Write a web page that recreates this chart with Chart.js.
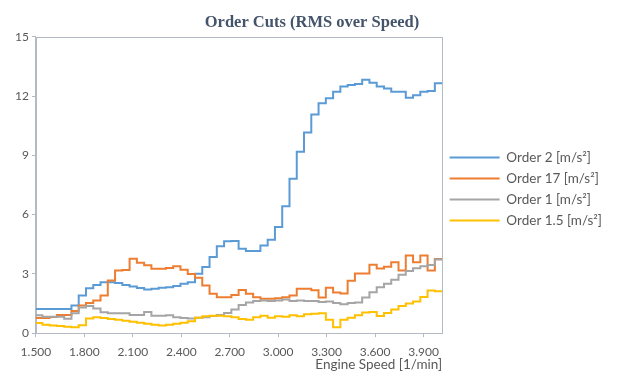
<!DOCTYPE html>
<html lang="en">
<head>
  <meta charset="UTF-8">
  <title>Order Cuts (RMS over Speed)</title>
  <style>
    html, body { margin: 0; padding: 0; background: #fff; }
    .wrap { position: relative; width: 618px; height: 378px; }
  </style>
  <script src="https://cdn.jsdelivr.net/npm/chart.js@4/dist/chart.umd.min.js"></script>
</head>
<body>
  <div class="wrap"><canvas id="myChart"></canvas></div>
  <script>
    // bin edges in 1/min (each value holds from its edge to the next one)
    const speeds = [1495, 1540, 1585, 1630, 1675, 1720, 1765, 1810, 1855, 1900,
      1945, 1990, 2035, 2080, 2125, 2170, 2215, 2260, 2305, 2350,
      2395, 2440, 2485, 2530, 2575, 2620, 2665, 2710, 2755, 2800,
      2845, 2890, 2935, 2980, 3025, 3070, 3115, 3160, 3205, 3250,
      3295, 3340, 3385, 3430, 3475, 3520, 3565, 3610, 3655, 3700,
      3745, 3790, 3835, 3880, 3925, 3970, 4015];

    const order2 = [1.22, 1.22, 1.22, 1.22, 1.22, 1.40, 1.90, 2.27, 2.44, 2.58,
      2.58, 2.53, 2.44, 2.36, 2.28, 2.21, 2.24, 2.29, 2.32, 2.38,
      2.50, 2.58, 3.00, 3.35, 3.85, 4.40, 4.65, 4.66, 4.27, 4.16,
      4.16, 4.44, 4.73, 5.37, 6.42, 7.81, 9.18, 10.16, 11.07, 11.63,
      11.89, 12.22, 12.48, 12.56, 12.61, 12.82, 12.68, 12.48, 12.38, 12.22,
      12.22, 11.92, 12.04, 12.22, 12.26, 12.65];

    const order17 = [0.77, 0.77, 0.82, 0.92, 0.92, 1.12, 1.40, 1.52, 1.65, 1.90,
      2.66, 3.17, 3.20, 3.77, 3.56, 3.43, 3.26, 3.26, 3.29, 3.39,
      3.21, 2.99, 2.80, 2.41, 1.99, 1.82, 1.82, 1.93, 2.18, 1.99,
      1.82, 1.74, 1.74, 1.77, 1.82, 1.90, 2.25, 2.25, 2.17, 1.80,
      2.30, 2.05, 2.00, 2.65, 3.02, 3.02, 3.46, 3.27, 3.36, 3.59,
      3.17, 3.93, 3.59, 3.93, 3.17, 3.75];

    const order1 = [0.90, 0.83, 0.83, 0.83, 0.73, 1.00, 1.30, 1.37, 1.25, 1.05,
      1.00, 1.00, 1.00, 0.92, 0.92, 1.07, 0.88, 0.88, 0.90, 0.80,
      0.76, 0.74, 0.78, 0.80, 0.86, 0.92, 1.02, 1.20, 1.42, 1.55,
      1.63, 1.65, 1.63, 1.65, 1.70, 1.62, 1.65, 1.62, 1.62, 1.57,
      1.60, 1.53, 1.46, 1.53, 1.55, 1.80, 2.07, 2.32, 2.50, 2.70,
      2.96, 3.15, 3.28, 3.38, 3.45, 3.73];

    const order15 = [0.51, 0.42, 0.38, 0.36, 0.32, 0.30, 0.40, 0.74, 0.80, 0.76,
      0.72, 0.67, 0.63, 0.58, 0.52, 0.47, 0.42, 0.38, 0.42, 0.47,
      0.52, 0.60, 0.78, 0.85, 0.88, 0.88, 0.85, 0.80, 0.72, 0.67,
      0.80, 0.88, 0.78, 0.85, 0.83, 0.90, 0.85, 0.95, 0.98, 1.00,
      0.68, 0.30, 0.68, 0.78, 0.90, 1.04, 1.07, 0.86, 1.02, 1.20,
      1.37, 1.50, 1.60, 1.83, 2.16, 2.12];

    const seriesNames = ['Order 2 [m/s²]', 'Order 17 [m/s²]', 'Order 1 [m/s²]', 'Order 1.5 [m/s²]'];
    const seriesColors = ['#5B9BD5', '#ED7D31', '#A5A5A5', '#FFC000'];
    const seriesValues = [order2, order17, order1, order15];

    const xMin = 1500, xMax = 4015, xStep = 300;
    const yMax = 15, yStep = 3;

    const axisColor = '#B4BAC4';
    const textColor = '#595959';

    // step line: each edge gets the value of its bin, the closing edge repeats the last one
    function toPoints(vals) {
      return speeds.map((x, i) => ({ x: x, y: vals[Math.min(i, vals.length - 1)] }));
    }

    // box round the plot area, like the original
    const plotBorder = {
      id: 'plotBorder',
      beforeDatasetsDraw(chart) {
        const a = chart.chartArea;
        const ctx = chart.ctx;
        ctx.save();
        ctx.strokeStyle = axisColor;
        ctx.lineWidth = 1;
        ctx.strokeRect(Math.round(a.left) + 0.5, Math.round(a.top) + 0.5,
          Math.round(a.right) - Math.round(a.left), Math.round(a.bottom) - Math.round(a.top));
        ctx.restore();
      }
    };

    Chart.defaults.font.family = 'Lato, sans-serif';
    Chart.defaults.color = textColor;

    const ctx = document.getElementById('myChart').getContext('2d');
    const myChart = new Chart(ctx, {
      type: 'line',
      data: {
        datasets: seriesValues.map((vals, i) => ({
          label: seriesNames[i],
          data: toPoints(vals),
          borderColor: seriesColors[i],
          backgroundColor: seriesColors[i],
          borderWidth: 2,
          pointRadius: 0,
          stepped: true,
          order: seriesValues.length - 1 - i // later series on top, as in the source
        }))
      },
      options: {
        responsive: true,
        maintainAspectRatio: false,
        devicePixelRatio: 1,
        animation: false,
        layout: { padding: { left: 12, right: 6, top: 0, bottom: 0 } },
        plugins: {
          title: {
            display: true,
            text: 'Order Cuts (RMS over Speed)',
            color: '#44546A',
            font: { family: '"Liberation Serif", serif', size: 16.5, weight: 'bold' },
            padding: { top: 13, bottom: 4 }
          },
          legend: {
            position: 'right',
            maxWidth: 200,
            labels: {
              boxWidth: 50,
              boxHeight: 0,
              padding: 7.5,
              color: textColor,
              font: { size: 13.5 },
              sort: (a, b) => a.datasetIndex - b.datasetIndex
            }
          },
          tooltip: { enabled: false }
        },
        scales: {
          x: {
            type: 'linear',
            min: xMin,
            max: xMax,
            afterBuildTicks: s => { s.ticks = s.ticks.filter(t => t.value % xStep === 0); },
            ticks: {
              stepSize: xStep,
              includeBounds: false,
              autoSkip: false,
              maxRotation: 0,
              padding: 8,
              font: { size: 12 },
              callback: v => String(v).replace(/\B(?=(\d{3})+(?!\d))/g, '.')
            },
            grid: { drawOnChartArea: false, drawTicks: true, tickLength: 4, color: axisColor },
            border: { color: axisColor },
            title: {
              display: true,
              text: 'Engine Speed [1/min]',
              align: 'end',
              font: { size: 13.5, lineHeight: 1 },
              padding: { top: -10, bottom: 7 }
            }
          },
          y: {
            min: 0,
            max: yMax,
            ticks: { stepSize: yStep, padding: 3, font: { size: 12 } },
            grid: { drawOnChartArea: false, drawTicks: true, tickLength: 4, color: axisColor },
            border: { color: axisColor }
          }
        }
      },
      plugins: [plotBorder]
    });
  </script>
</body>
</html>
